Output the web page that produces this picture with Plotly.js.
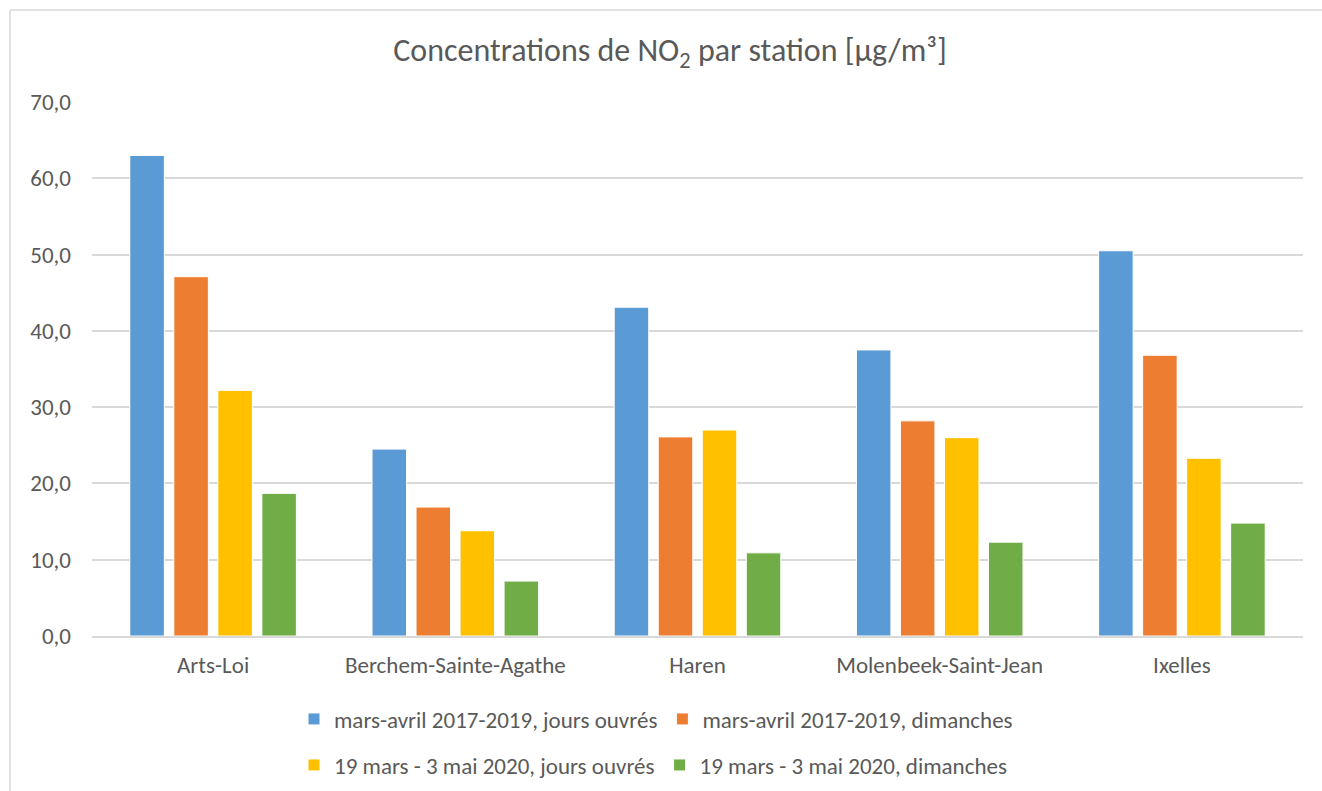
<!DOCTYPE html>
<html>
<head>
<meta charset="utf-8">
<script src="https://cdn.plot.ly/plotly-3.0.1.min.js"></script>
<style>html,body{margin:0;padding:0;background:#fff;}#chart{width:1322px;height:791px;}</style>
</head>
<body>
<div id="chart"></div>
<script>
const categories = ["Arts-Loi", "Berchem-Sainte-Agathe", "Haren", "Molenbeek-Saint-Jean", "Ixelles"];
const seriesNames = [
  "mars-avril 2017-2019, jours ouvrés",
  "mars-avril 2017-2019, dimanches",
  "19 mars - 3 mai 2020, jours ouvrés",
  "19 mars - 3 mai 2020, dimanches"
];
const workdays20172019 = [63.0, 24.5, 43.1, 37.5, 50.5];
const sundays20172019 = [47.1, 16.9, 26.1, 28.2, 36.8];
const workdays2020 = [32.2, 13.8, 27.0, 26.0, 23.3];
const sundays2020 = [18.7, 7.2, 10.9, 12.3, 14.8];
const colors = ["#5B9BD5", "#ED7D31", "#FFC000", "#70AD47"];
const yTicks = [0, 10, 20, 30, 40, 50, 60, 70];

const W = 1322, H = 791;
const M = {l: 92, r: 19, t: 102, b: 155};
const pw = W - M.l - M.r, ph = H - M.t - M.b;
const px = x => (x - M.l) / pw;
const py = y => (H - M.b - y) / ph;

const values = [workdays20172019, sundays20172019, workdays2020, sundays2020];
const legendIds = ["legend", "legend", "legend2", "legend2"];
const FONT = "Carlito, Lato, 'Open Sans', sans-serif";

const traces = values.map((v, i) => ({
  type: "bar",
  name: seriesNames[i],
  x: categories,
  y: v,
  legend: legendIds[i],
  marker: {color: colors[i], line: {color: "#ffffff", width: 1}},
  hoverinfo: "x+y+name"
}));

const legendCommon = {
  orientation: "h",
  xref: "container",
  yref: "container",
  xanchor: "left",
  yanchor: "middle",
  x: 294 / W,
  font: {family: FONT, size: 23, color: "#595959"},
  bgcolor: "rgba(0,0,0,0)",
  itemclick: false,
  itemdoubleclick: false,
  itemwidth: 30,
  traceorder: "normal"
};

const layout = {
  width: W, height: H,
  margin: M,
  paper_bgcolor: "#ffffff",
  plot_bgcolor: "#ffffff",
  font: {family: FONT, color: "#595959"},
  title: {
    text: "Concentrations de NO<sub>2</sub> par station [µg/m³]",
    font: {family: FONT, size: 32, color: "#595959"},
    xref: "container",
    x: 670 / W, xanchor: "center",
    y: 1 - 50 / H, yanchor: "middle"
  },
  barmode: "group",
  bargap: 0.273,
  bargroupgap: 0.216,
  xaxis: {
    type: "category",
    showgrid: false,
    showline: true,
    linecolor: "#d9d9d9",
    linewidth: 1.5,
    ticks: "",
    ticklabelstandoff: 8,
    tickfont: {family: FONT, size: 23, color: "#595959"},
    automargin: false,
    fixedrange: true
  },
  yaxis: {
    range: [0, 70],
    tickvals: yTicks,
    tickformat: ".1f",
    showgrid: true,
    gridcolor: "#d9d9d9",
    gridwidth: 1.5,
    zeroline: false,
    showline: false,
    ticks: "",
    ticklabelstandoff: 20,
    tickfont: {family: FONT, size: 23, color: "#595959"},
    automargin: false,
    fixedrange: true
  },
  separators: ",.",
  showlegend: true,
  legend: Object.assign({}, legendCommon, {y: 1 - 719 / H}),
  legend2: Object.assign({}, legendCommon, {y: 1 - 765 / H}),
  shapes: [
    {type: "line", xref: "paper", yref: "paper", x0: px(10), x1: px(1322), y0: py(10), y1: py(10), line: {color: "#d9d9d9", width: 1.5}},
    {type: "line", xref: "paper", yref: "paper", x0: px(10), x1: px(10), y0: py(10), y1: py(791), line: {color: "#d9d9d9", width: 1.5}}
  ]
};

Plotly.newPlot("chart", traces, layout, {displayModeBar: false});
</script>
</body>
</html>
